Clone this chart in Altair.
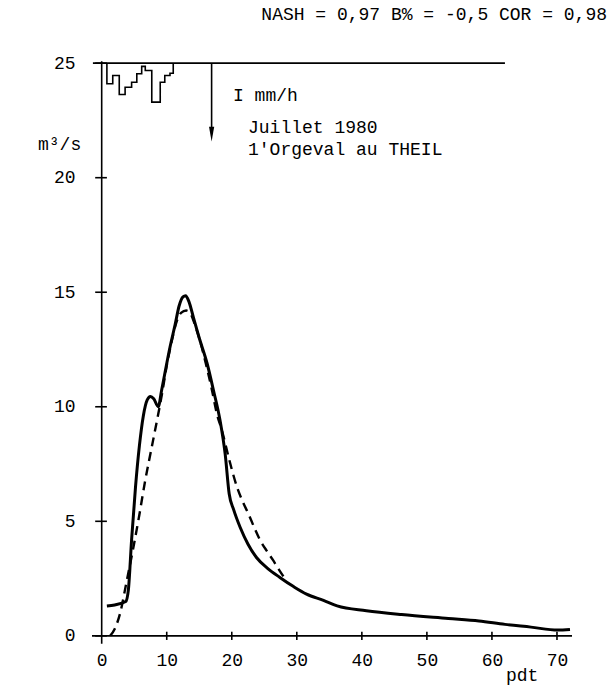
import altair as alt
import pandas as pd

# ---------------- data ----------------
# Observed discharge (solid line), m3/s vs time step (pdt)
obs_t = [0.8, 2.0, 3.7, 4.1, 4.6, 5.2, 5.8, 6.4, 7.0, 7.5, 8.0, 8.7, 9.2, 10.5,
         11.3, 11.9, 12.5, 12.9, 13.4, 14.1, 15.0, 16.2, 17.2, 18.2, 19.0, 19.6,
         20.3, 21.3, 22.5, 23.8, 25.5, 27.4, 29.5, 31.5, 34.1, 36.2, 40.7, 46.1,
         53.3, 58.0, 62.0, 66.0, 70.1, 72.0]
obs_q = [1.3, 1.35, 1.5, 2.0, 4.2, 6.5, 8.3, 9.6, 10.3, 10.45, 10.35, 10.0, 10.7,
         12.6, 13.6, 14.4, 14.8, 14.85, 14.6, 13.9, 13.0, 11.9, 10.7, 9.4, 7.9,
         6.2, 5.5, 4.73, 4.0, 3.42, 2.95, 2.55, 2.15, 1.82, 1.55, 1.31, 1.1, 0.93,
         0.76, 0.65, 0.5, 0.38, 0.25, 0.28]

# Simulated discharge (dashed line)
sim_t = [1.3, 2.0, 2.8, 3.85, 4.9, 5.8, 6.7, 7.6, 8.5, 9.3, 10.0, 10.8, 11.5,
         12.2, 13.0, 13.6, 14.3, 15.1, 16.0, 16.9, 17.7, 18.5, 19.6, 20.8, 21.7,
         22.6, 23.5, 24.4, 25.4, 26.4, 27.3, 28.2]
sim_q = [0.0, 0.3, 0.95, 2.4, 3.9, 5.3, 6.8, 8.1, 9.4, 10.6, 11.8, 12.9, 13.7,
         14.1, 14.2, 14.1, 13.6, 12.9, 11.9, 10.8, 9.7, 8.95, 7.7, 6.5, 5.85,
         5.3, 4.7, 4.15, 3.7, 3.28, 2.87, 2.48]

# Rainfall intensity (hyetograph hanging from the top line), step boundaries
rain_t = [0.8, 1.7, 2.7, 3.6, 4.6, 5.4, 6.15, 6.7, 7.7, 9.0, 9.7, 10.5, 11.0]
rain_i = [0.9, 0.54, 1.37, 1.05, 0.83, 0.46, 0.14, 0.32, 1.7, 0.83, 0.54, 0.44]

x_ticks = [0, 10, 20, 30, 40, 50, 60, 70]
y_ticks = [0, 5, 10, 15, 20, 25]

TOP = 25          # level of the rainfall baseline
ARROW_X = 16.9
ARROW_END = 21.9

FONT = "Liberation Mono"
FS = 18

# ---------------- frames ----------------
obs = pd.DataFrame({"t": obs_t, "q": obs_q, "o": range(len(obs_t))})
sim = pd.DataFrame({"t": sim_t, "q": sim_q, "o": range(len(sim_t))})

hx, hy = [rain_t[0]], [TOP]
for i, v in enumerate(rain_i):
    hx += [rain_t[i], rain_t[i + 1]]
    hy += [TOP - v, TOP - v]
hx.append(rain_t[-1]); hy.append(TOP)
hyeto = pd.DataFrame({"t": hx, "q": hy, "o": range(len(hx))})

segs = []
segs.append((-1.49, 72.31, 0, 0))          # x axis line
segs.append((0, 0, -0.35, 25.08))          # y axis line
segs.append((-1.35, 62.0, TOP, TOP))       # rainfall baseline
for t in x_ticks[1:]:
    segs.append((t, t, -0.18, 0.18))
for v in y_ticks:
    segs.append((-1.0, 0.8, v, v))
segs.append((ARROW_X, ARROW_X, TOP, ARROW_END))
rules = pd.DataFrame(segs, columns=["x", "x2", "y", "y2"])

xs = alt.Scale(domain=[-1.49, 72.31], nice=False, zero=False)
ys = alt.Scale(domain=[-0.4, 25.4], nice=False, zero=False)

xaxis = alt.Axis(values=x_ticks, domain=False, ticks=False, grid=False, title=None,
                 labelFont=FONT, labelFontSize=FS, labelColor="black", labelPadding=6)
yaxis = alt.Axis(values=y_ticks, domain=False, ticks=False, grid=False, title=None,
                 labelFont=FONT, labelFontSize=FS, labelColor="black", labelPadding=17)

X = lambda f: alt.X(f, scale=xs, axis=xaxis)
Y = lambda f: alt.Y(f, scale=ys, axis=yaxis)

base_obs = alt.Chart(obs).mark_line(color="black", strokeWidth=3, interpolate="monotone").encode(
    x=X("t:Q"), y=Y("q:Q"), order="o:Q",
)
sim_line = alt.Chart(sim).mark_line(color="black", strokeWidth=2.4, strokeDash=[9, 6],
                                    interpolate="monotone").encode(
    x=X("t:Q"), y=Y("q:Q"), order="o:Q",
)
hy_line = alt.Chart(hyeto).mark_line(color="black", strokeWidth=1.6).encode(
    x=X("t:Q"), y=Y("q:Q"), order="o:Q",
)
rule_layer = alt.Chart(rules).mark_rule(color="black", strokeWidth=1.6).encode(
    x=X("x:Q"), x2="x2:Q", y=Y("y:Q"), y2="y2:Q",
)
arrow_head = alt.Chart(pd.DataFrame({"x": [ARROW_X], "y": [ARROW_END]})).mark_point(
    shape="M-0.35,-1L0.35,-1L0,1Z", filled=True, color="black", opacity=1, size=220,
).encode(x=X("x:Q"), y=Y("y:Q"))

OX, OY = 92, 54


def txt(s, px, py, align="left", baseline="middle"):
    return alt.Chart(pd.DataFrame({"a": [0]})).mark_text(
        text=s, font=FONT, fontSize=FS, color="black", align=align, baseline=baseline,
    ).encode(x=alt.value(px - OX), y=alt.value(py - OY))


texts = [
    txt("NASH = 0,97 B% = -0,5 COR = 0,98", 607, 15, align="right"),
    txt("m³/s", 38, 145),
    txt("I mm/h", 233, 96),
    txt("Juillet 1980", 248, 128),
    txt("1'Orgeval au THEIL", 248, 150),
    txt("pdt", 506, 681, baseline="alphabetic"),
]

chart = alt.layer(base_obs, sim_line, hy_line, rule_layer, arrow_head, *texts).properties(
    width=480, height=591,
    padding={"left": OX, "top": OY, "right": 39, "bottom": 41},
    autosize=alt.AutoSizeParams(type="none"),
    background="white",
).configure_view(stroke=None)

chart.save("out.html", embed_options={"renderer": "svg", "actions": False})
